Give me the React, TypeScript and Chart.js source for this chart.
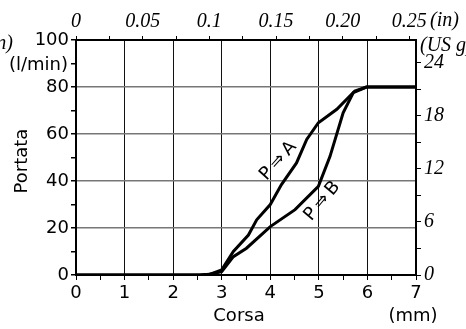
import React, { useEffect, useRef } from "react";
import { Chart, registerables } from "chart.js";

Chart.register(...registerables);

// Data (stroke in mm, flow in l/min)
const strokeA = [0, 2.55, 2.75, 3.0, 3.24, 3.55, 3.72, 4.0, 4.23, 4.54, 4.75, 4.99, 5.37, 5.74, 5.98, 7];
const flowA = [0, 0, 0.3, 2.2, 10, 17, 23.5, 30, 38.5, 47.7, 57.7, 64.8, 70.5, 78.3, 80, 80];
const strokeB = [0, 2.55, 2.75, 3.0, 3.24, 3.51, 4.0, 4.51, 4.99, 5.23, 5.5, 5.71, 5.98, 7];
const flowB = [0, 0, 0.3, 1.4, 7.8, 11.4, 20.6, 27.8, 37.7, 50.5, 69, 77.6, 80, 80];

const bottomTicks = [0, 0.5, 1, 1.5, 2, 2.5, 3, 3.5, 4, 4.5, 5, 5.5, 6, 6.5, 7];
const bottomLabels = ["0", "", "1", "", "2", "", "3", "", "4", "", "5", "", "6", "", "7"];
const leftTicks = [0, 10, 20, 30, 40, 50, 60, 70, 80, 90, 100];
const leftLabels = ["0", "", "20", "", "40", "", "60", "", "80", "", "100"];
const topTicks = [0, 0.025, 0.05, 0.075, 0.1, 0.125, 0.15, 0.175, 0.2, 0.225, 0.25];
const topLabels = ["0", "", "0.05", "", "0.1", "", "0.15", "", "0.20", "", "0.25"];
const rightTicks = [0, 3, 6, 9, 12, 15, 18, 21, 24];
const rightLabels = ["0", "", "6", "", "12", "", "18", "", "24"];

const SANS = "'DejaVu Sans', Verdana, sans-serif";
const SERIF = "'Liberation Serif', 'Times New Roman', serif";

const textPlugin = {
  id: "texts",
  afterDraw(chart: any) {
    const ctx = chart.ctx;
    ctx.save();
    ctx.fillStyle = "#000";
    ctx.font = `18px ${SANS}`;
    ctx.textBaseline = "middle";
    ctx.textAlign = "right";
    ctx.fillText("(l/min)", 68, 65);
    ctx.textAlign = "center";
    ctx.fillText("Corsa", 239, 316);
    ctx.fillText("(mm)", 413, 316);
    ctx.save();
    ctx.translate(22, 161);
    ctx.rotate(-Math.PI / 2);
    ctx.fillText("Portata", 0, 0);
    ctx.restore();
    ctx.font = `italic 20px ${SERIF}`;
    ctx.textAlign = "left";
    ctx.fillText("(in)", 430, 21);
    ctx.fillText("(US gpm)", 420, 46);
    ctx.textAlign = "right";
    ctx.fillText("(in)", 13, 44);
    ctx.font = `18px ${SANS}`;
    ctx.textAlign = "center";
    const xs = chart.scales.x;
    const ys = chart.scales.y;
    const drawRot = (t: string, xv: number, yv: number, dx: number, dy: number, deg: number) => {
      ctx.save();
      ctx.translate(xs.getPixelForValue(xv) + dx, ys.getPixelForValue(yv) + dy);
      ctx.rotate((-deg * Math.PI) / 180);
      ctx.fillText(t, 0, 0);
      ctx.restore();
    };
    drawRot("P\u2009\u21D2\u2009A", 4.35, 43, -9, -13, 48);
    drawRot("P\u2009\u21D2\u2009B", 4.7, 31, 18, -1, 50);
    ctx.restore();
  },
};

export default function App() {
  const ref = useRef<HTMLCanvasElement>(null);
  useEffect(() => {
    document.body.style.margin = "0";
    const setTicks = (vals: number[]) => (s: any) => {
      s.ticks = vals.map((v) => ({ value: v }));
    };
    const chart = new Chart(ref.current!, {
      type: "scatter",
      data: {
        datasets: [
          {
            data: strokeA.map((x, i) => ({ x, y: flowA[i] })),
            showLine: true,
            borderColor: "#000",
            borderWidth: 3,
            pointRadius: 0,
            xAxisID: "x",
            yAxisID: "y",
          },
          {
            data: strokeB.map((x, i) => ({ x, y: flowB[i] })),
            showLine: true,
            borderColor: "#000",
            borderWidth: 3,
            pointRadius: 0,
            xAxisID: "x",
            yAxisID: "y",
          },
        ],
      },
      options: {
        animation: false,
        responsive: false,
        layout: { padding: 0 },
        plugins: { legend: { display: false }, tooltip: { enabled: false } },
        scales: {
          x: {
            type: "linear",
            position: "bottom",
            min: 0,
            max: 7,
            afterBuildTicks: setTicks(bottomTicks),
            afterFit: (s: any) => {
              s.height = 54;
            },
            ticks: {
              autoSkip: false,
              maxRotation: 0,
              color: "#000",
              padding: 3,
              font: { family: SANS, size: 18 },
              callback: (_v: any, i: number) => bottomLabels[i],
            },
            grid: {
              color: (c: any) => (c.tick && Number.isInteger(c.tick.value) ? "#111" : "rgba(0,0,0,0)"),
              tickColor: "#000",
              lineWidth: 1,
              tickLength: 5,
            },
            border: { color: "#000", width: 2 },
          },
          x2: {
            type: "linear",
            position: "top",
            min: 0,
            max: 0.255,
            afterBuildTicks: setTicks(topTicks),
            afterFit: (s: any) => {
              s.height = 40;
            },
            ticks: {
              autoSkip: false,
              maxRotation: 0,
              color: "#000",
              padding: 2,
              font: { family: SERIF, size: 20, style: "italic" },
              callback: (_v: any, i: number) => topLabels[i],
            },
            grid: { drawOnChartArea: false, tickColor: "#000", tickLength: 4 },
            border: { color: "#000", width: 2 },
          },
          y: {
            type: "linear",
            position: "left",
            min: 0,
            max: 100,
            afterBuildTicks: setTicks(leftTicks),
            afterFit: (s: any) => {
              s.width = 76;
            },
            ticks: {
              autoSkip: false,
              color: "#000",
              padding: 2,
              font: { family: SANS, size: 18 },
              callback: (_v: any, i: number) => leftLabels[i],
            },
            grid: {
              color: (c: any) => (c.tick && c.tick.value % 20 === 0 ? "#777" : "rgba(0,0,0,0)"),
              tickColor: "#000",
              lineWidth: 1.5,
              tickLength: 5,
            },
            border: { color: "#000", width: 2 },
          },
          y2: {
            type: "linear",
            position: "right",
            min: 0,
            max: 26.6,
            afterBuildTicks: setTicks(rightTicks),
            afterFit: (s: any) => {
              s.width = 50;
            },
            ticks: {
              autoSkip: false,
              color: "#000",
              padding: 3,
              font: { family: SERIF, size: 20, style: "italic" },
              callback: (_v: any, i: number) => rightLabels[i],
            },
            grid: { drawOnChartArea: false, tickColor: "#000", tickLength: 5 },
            border: { color: "#000", width: 2 },
          },
        },
      },
      plugins: [textPlugin],
    });
    return () => chart.destroy();
  }, []);
  return <canvas ref={ref} width={466} height={329} style={{ display: "block" }} />;
}
